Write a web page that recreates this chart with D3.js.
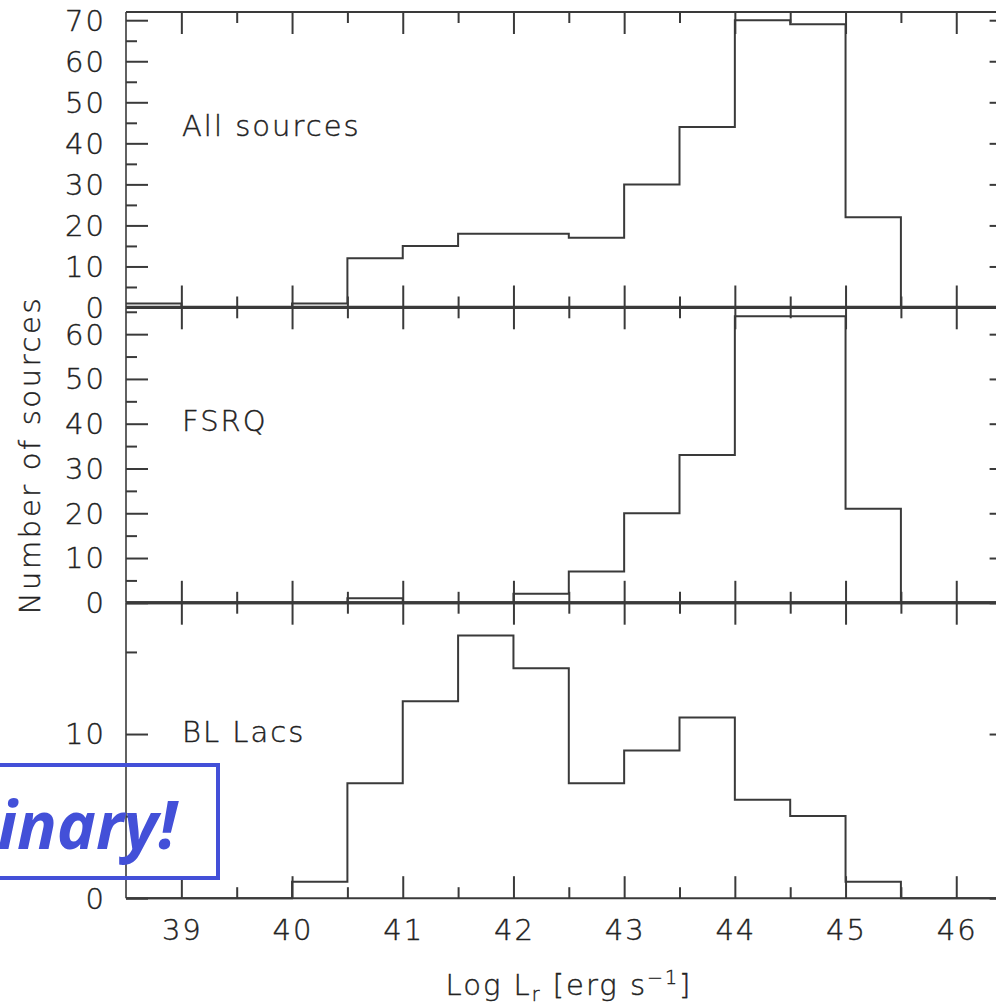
<!DOCTYPE html>
<html>
<head>
<meta charset="utf-8">
<script src="https://cdn.jsdelivr.net/npm/d3@7"></script>
<style>
  html, body { margin: 0; padding: 0; background: #fff; }
  svg { display: block; }
  .lbl { font-family: "DejaVu Sans", sans-serif; font-weight: 200; fill: #222; stroke: #222; stroke-width: 0.4px; letter-spacing: 2px; }
</style>
</head>
<body>
<svg id="chart" width="996" height="1006"></svg>
<script>
// ---- data ----
const binStarts = [38.5, 39, 39.5, 40, 40.5, 41, 41.5, 42, 42.5, 43, 43.5, 44, 44.5, 45, 45.5, 46];
const binEnd = 46.5;
const allSources = [1, 0, 0, 1, 12, 15, 18, 18, 17, 30, 44, 70, 69, 22, 0, 0];
const fsrq       = [0, 0, 0, 0, 1, 0, 0, 2, 7, 20, 33, 64, 64, 21, 0, 0];
const blLacs     = [0, 0, 0, 1, 7, 12, 16, 14, 7, 9, 11, 6, 5, 1, 0, 0];
const panelNames = ["All sources", "FSRQ", "BL Lacs"];
const panelYMax = [72, 66, 18];
const majorX = [39, 40, 41, 42, 43, 44, 45, 46];
const minorX = [39.5, 40.5, 41.5, 42.5, 43.5, 44.5, 45.5];
const majorY1 = [0, 10, 20, 30, 40, 50, 60, 70];
const minorY1 = [5, 15, 25, 35, 45, 55, 65];
const majorY2 = [0, 10, 20, 30, 40, 50, 60];
const minorY2 = [5, 15, 25, 35, 45, 55, 65];
const majorY3 = [0, 10];
const minorY3 = [5, 15];
const xTitle = "Log L";
const yTitle = "Number of sources";
const stamp = "Preliminary!";

// ---- layout ----
const svg = d3.select("#chart");
const left = 126, right = 1011.6;
const panelTops = [12, 307.3, 602.7];
const panelH = 295.5;
const ink = "#3a3a3a";

const x = d3.scaleLinear().domain([38.5, 46.5]).range([left, right]);

const series = [allSources, fsrq, blLacs];
const majors = [majorY1, majorY2, majorY3];
const minors = [minorY1, minorY2, minorY3];

series.forEach((vals, i) => {
  const top = panelTops[i], bottom = top + panelH;
  const y = d3.scaleLinear().domain([0, panelYMax[i]]).range([bottom, top]);
  const g = svg.append("g");

  // histogram
  const pts = binStarts.map((b, k) => [b, vals[k]]);
  pts.push([binEnd, vals[vals.length - 1]]);
  const line = d3.line().x(d => x(d[0])).y(d => y(d[1])).curve(d3.curveStepAfter);
  g.append("path").attr("d", line(pts)).attr("fill", "none")
    .attr("stroke", ink).attr("stroke-width", 2);

  // left / right axis with ticks (inward)
  const yl = d3.axisRight(y).tickValues(majors[i]).tickSize(22).tickFormat("");
  const ylm = d3.axisRight(y).tickValues(minors[i]).tickSize(11).tickFormat("");
  const yr = d3.axisLeft(y).tickValues(majors[i]).tickSize(22).tickFormat("");
  const yrm = d3.axisLeft(y).tickValues(minors[i]).tickSize(11).tickFormat("");
  [[yl, left], [ylm, left], [yr, right], [yrm, right]].forEach(([ax, px]) => {
    const a = g.append("g").attr("transform", `translate(${px},0)`).call(ax);
    a.select(".domain").remove();
    a.selectAll("line").attr("stroke", ink).attr("stroke-width", 2);
  });
  // vertical axis lines
  g.append("line").attr("x1", left).attr("x2", left).attr("y1", top).attr("y2", bottom)
    .attr("stroke", ink).attr("stroke-width", 1.6);
  g.append("line").attr("x1", right).attr("x2", right).attr("y1", top).attr("y2", bottom)
    .attr("stroke", ink).attr("stroke-width", 1.6);

  // y tick labels
  g.selectAll("text.yt").data(majors[i]).enter().append("text")
    .attr("class", "lbl yt").attr("x", 106).attr("y", d => y(d))
    .attr("dy", "0.36em").attr("text-anchor", "end").attr("font-size", 29)
    .text(d => d);

  // x ticks at top (down) and bottom (up)
  const xtTop = d3.axisBottom(x).tickValues(majorX).tickSize(22).tickFormat("");
  const xtTopM = d3.axisBottom(x).tickValues(minorX).tickSize(11).tickFormat("");
  const xtBot = d3.axisTop(x).tickValues(majorX).tickSize(22).tickFormat("");
  const xtBotM = d3.axisTop(x).tickValues(minorX).tickSize(11).tickFormat("");
  [[xtTop, top], [xtTopM, top], [xtBot, bottom], [xtBotM, bottom]].forEach(([ax, py]) => {
    const a = g.append("g").attr("transform", `translate(0,${py})`).call(ax);
    a.select(".domain").remove();
    a.selectAll("line").attr("stroke", ink).attr("stroke-width", 2);
  });

  // horizontal frame lines
  g.append("line").attr("x1", left).attr("x2", right).attr("y1", top).attr("y2", top)
    .attr("stroke", ink).attr("stroke-width", i === 0 ? 2 : 3);
  g.append("line").attr("x1", left).attr("x2", right).attr("y1", bottom).attr("y2", bottom)
    .attr("stroke", ink).attr("stroke-width", i === 2 ? 2 : 3);

  // panel label
  const labelY = [136, 431, 742][i];
  g.append("text").attr("class", "lbl").attr("x", 182).attr("y", labelY)
    .attr("font-size", 29).text(panelNames[i]);
});

// x tick labels
svg.selectAll("text.xt").data(majorX).enter().append("text")
  .attr("class", "lbl xt").attr("x", d => x(d) + 1).attr("y", 940)
  .attr("text-anchor", "middle").attr("font-size", 29).text(d => d);

// x title
const xt = svg.append("text").attr("class", "lbl").attr("x", 569).attr("y", 995)
  .attr("text-anchor", "middle").attr("font-size", 29);
xt.append("tspan").text(xTitle);
xt.append("tspan").attr("font-size", 19).attr("dy", 6).text("r");
xt.append("tspan").attr("dy", -6).text(" [erg s");
xt.append("tspan").attr("font-size", 19).attr("dy", -11).text("\u22121");
xt.append("tspan").attr("dy", 11).text("]");

// y title
svg.append("text").attr("class", "lbl")
  .attr("transform", "translate(40,455) rotate(-90)")
  .attr("text-anchor", "middle").attr("font-size", 29)
  .style("letter-spacing", "2.6px").text(yTitle);

// preliminary stamp
const blue = "#4350d8";
svg.append("rect").attr("x", -300).attr("y", 765).attr("width", 518).attr("height", 113)
  .attr("fill", "none").attr("stroke", blue).attr("stroke-width", 4);
svg.append("text").attr("x", 177).attr("y", 849).attr("text-anchor", "end")
  .attr("font-family", "'Open Sans', 'Noto Sans', sans-serif")
  .attr("font-weight", "bold").attr("font-style", "italic")
  .attr("font-size", 66).attr("fill", blue).text(stamp);
</script>
</body>
</html>
